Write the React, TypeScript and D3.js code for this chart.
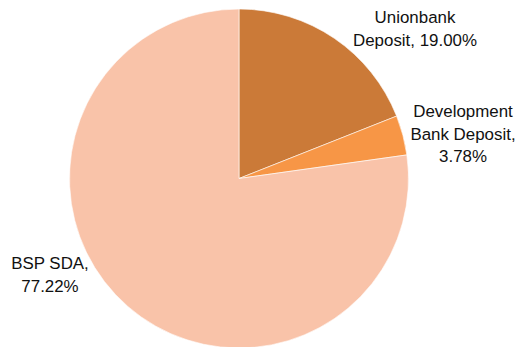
import React from "react";
import * as d3 from "d3";

const categories = ["Unionbank Deposit", "Development Bank Deposit", "BSP SDA"];
const values = [19.0, 3.78, 77.22];
const colors = ["#CB7A38", "#F79646", "#F9C3A9"];
const labelLines = [
  ["Unionbank", "Deposit, 19.00%"],
  ["Development", "Bank Deposit,", "3.78%"],
  ["BSP SDA,", "77.22%"],
];

const W = 525;
const H = 347;
const cx = 239;
const cy = 178.5;
const R = 169.5;
const labelPos = [
  { x: 415, y: 22.7 },
  { x: 463, y: 116.7 },
  { x: 50, y: 269.3 },
];
const lineH = 22.8;

export default function App() {
  const pie = d3
    .pie<number>()
    .sort(null)
    .value((d) => d)
    .startAngle(0)
    .endAngle(2 * Math.PI);
  const arcs = pie(values);
  const arc = d3.arc<d3.PieArcDatum<number>>().innerRadius(0).outerRadius(R);

  return (
    <svg
      width={W}
      height={H}
      style={{ position: "fixed", left: 0, top: 0, background: "#fff" }}
    >
      <g transform={`translate(${cx},${cy})`}>
        {arcs.map((a, i) => (
          <path
            key={categories[i]}
            d={arc(a) || ""}
            fill={colors[i]}
            stroke="#fff"
            strokeWidth={0.6}
          />
        ))}
      </g>
      {labelLines.map((lines, i) => (
        <text
          key={categories[i]}
          textAnchor="middle"
          fontFamily="'Liberation Sans', Arial, sans-serif"
          fontSize={16.9}
          fill="#111"
        >
          {lines.map((l, j) => (
            <tspan key={j} x={labelPos[i].x} y={labelPos[i].y + j * lineH}>
              {l}
            </tspan>
          ))}
        </text>
      ))}
    </svg>
  );
}
